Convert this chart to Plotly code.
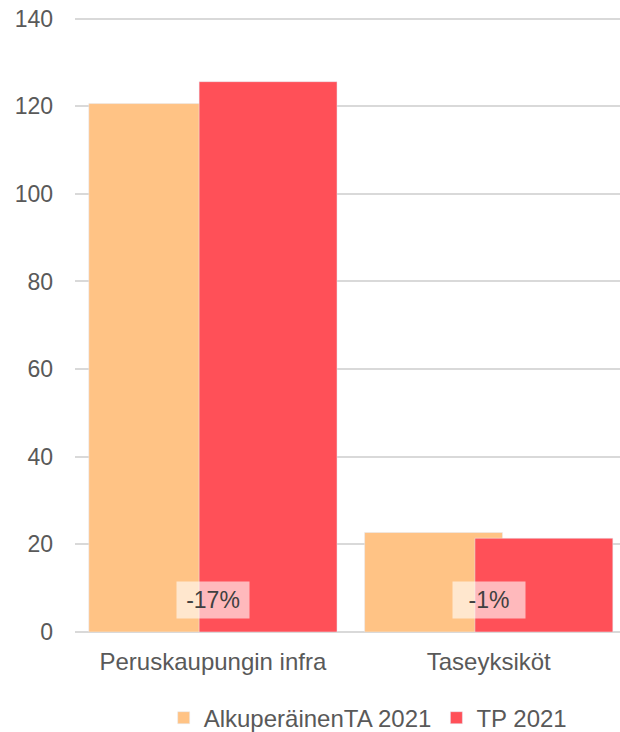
import plotly.graph_objects as go

categories = ["Peruskaupungin infra", "Taseyksiköt"]
ta_2021 = [120.6, 22.7]
tp_2021 = [125.6, 21.4]
change_labels = ["-17%", "-1%"]
label_y = [7.4, 7.4]

FONT = "Liberation Sans, Arial, sans-serif"
GREY = "#595959"

fig = go.Figure()
fig.add_trace(go.Bar(x=categories, y=ta_2021, name="AlkuperäinenTA 2021",
                     marker=dict(color="#FFC385"), offset=-0.45, width=0.5))
fig.add_trace(go.Bar(x=categories, y=tp_2021, name="TP 2021",
                     marker=dict(color="#FF5058"), offset=-0.05, width=0.5))

for cat, txt, yy in zip(categories, change_labels, label_y):
    fig.add_annotation(x=cat, y=yy, text=txt, showarrow=False,
                       font=dict(family=FONT, size=23, color="#404040"),
                       bgcolor="rgba(255,255,255,0.6)", width=70, height=34,
                       borderpad=1, xanchor="center", yanchor="middle")

fig.update_layout(
    width=620, height=732,
    margin=dict(l=75, r=0, t=12.4, b=100),
    paper_bgcolor="white", plot_bgcolor="white",
    barmode="overlay",
    font=dict(family=FONT, size=23, color=GREY),
    showlegend=True,
    legend=dict(orientation="h", xref="container", yref="container",
                x=0.264, xanchor="left", y=0.019, yanchor="middle",
                font=dict(size=24, color=GREY), traceorder="normal"),
)
fig.update_xaxes(range=[-0.5, 1.476], showgrid=False, showline=False, zeroline=False,
                 automargin=False, ticks="", ticklabelstandoff=13,
                 tickfont=dict(size=24, color=GREY))
# some headroom above 140 so its gridline is drawn
fig.update_yaxes(range=[0, 141.5], tickvals=[0, 20, 40, 60, 80, 100, 120, 140],
                 showgrid=True, gridcolor="#D9D9D9", gridwidth=1.5,
                 zeroline=True, zerolinecolor="#D9D9D9", zerolinewidth=1.5,
                 automargin=False, showline=False, ticks="", ticklabelstandoff=21,
                 tickfont=dict(size=23, color=GREY))

# page body has a default 8px margin; drop it so the figure sits at the window origin
fig.write_html("out.html", config={"displayModeBar": False},
               post_script="document.body.style.margin='0';")
